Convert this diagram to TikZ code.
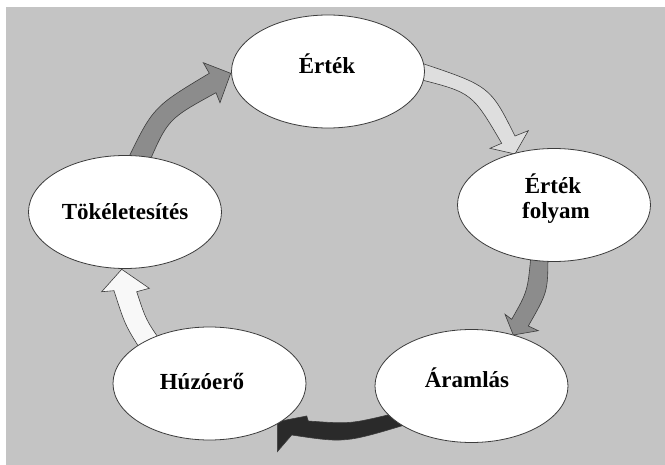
\documentclass[tikz,border=0pt]{standalone}
\usepackage{fontspec}
\setmainfont{Liberation Serif}
\usetikzlibrary{shapes.geometric}
\definecolor{bgray}{RGB}{196,196,196}
\definecolor{edge}{RGB}{60,60,60}
\definecolor{arrowlight}{RGB}{222,222,222}
\definecolor{arrowmid}{RGB}{140,140,140}
\definecolor{arrowdark}{RGB}{42,42,42}
\definecolor{arrowwhite}{RGB}{248,248,248}
\begin{document}
\begin{tikzpicture}[x=1pt,y=-1pt,
  stage/.style={ellipse, draw=edge, line width=0.8pt, fill=white,
    minimum width=193pt, minimum height=113pt, inner sep=0pt},
  lbl/.style={font=\fontsize{23}{25}\selectfont\bfseries, anchor=base, inner sep=0pt},
  blockarrow/.style={draw=edge, line width=0.6pt, line join=miter}]
\useasboundingbox (0,0) rectangle (665,465);
% grey backdrop
\fill[bgray] (6,7) rectangle (665,465);

% curved block arrows of the cycle (tails run under the ellipses)
\filldraw[blockarrow, fill=arrowlight]
  (418,62) .. controls (490,86) .. (515,136) -- (528.3,130.7) -- (515,154)
  -- (490,148.3) -- (501.7,143.3) .. controls (472,92.7) .. (418,79) -- cycle;
\filldraw[blockarrow, fill=arrowmid]
  (531,255) .. controls (527.6,291.3) .. (511.7,319.3) -- (505,314.3) -- (513.3,335)
  -- (538.3,330.7) -- (528.3,326) .. controls (547.8,292) .. (548,255) -- cycle;
\filldraw[blockarrow, fill=arrowdark]
  (392,414) .. controls (350,424) .. (308.3,421) -- (306.7,416) -- (277.3,421.7)
  -- (277.3,451.7) -- (291.7,435) .. controls (345,443) .. (408,424) -- cycle;
\filldraw[blockarrow, fill=arrowwhite]
  (142,352) .. controls (125,325) .. (114,290.7) -- (101.7,291.7) -- (121.7,269.3)
  -- (149.3,288.3) -- (136.7,291.7) .. controls (146,320) .. (162,343) -- cycle;
\filldraw[blockarrow, fill=arrowmid]
  (126,163) .. controls (153,107) .. (209.3,73.3) -- (203.3,62.7) -- (230.7,73.3)
  -- (220,102.7) -- (216,92.7) .. controls (168,119) .. (148,165) -- cycle;

% stages
\node[stage] (ertek)   at (328,71.5) {};
\node[stage] (folyam)  at (554,205)  {};
\node[stage] (aramlas) at (471.5,386) {};
\node[stage] (huzo)    at (209.5,383.5) {};
\node[stage] (tokel)   at (125,212)  {};

% stage labels
\node[lbl] (ertekt)   at (327,74)  {Érték};
\node[lbl] (folyamt1) at (553,194) {Érték};
\node[lbl] (folyamt2) at (556,219) {folyam};
\node[lbl] (aramlast) at (467,388) {Áramlás};
\node[lbl] (huzot)    at (202,390) {Húzóerő};
\node[lbl] (tokelt)   at (125,220) {Tökéletesítés};
\end{tikzpicture}
\end{document}
